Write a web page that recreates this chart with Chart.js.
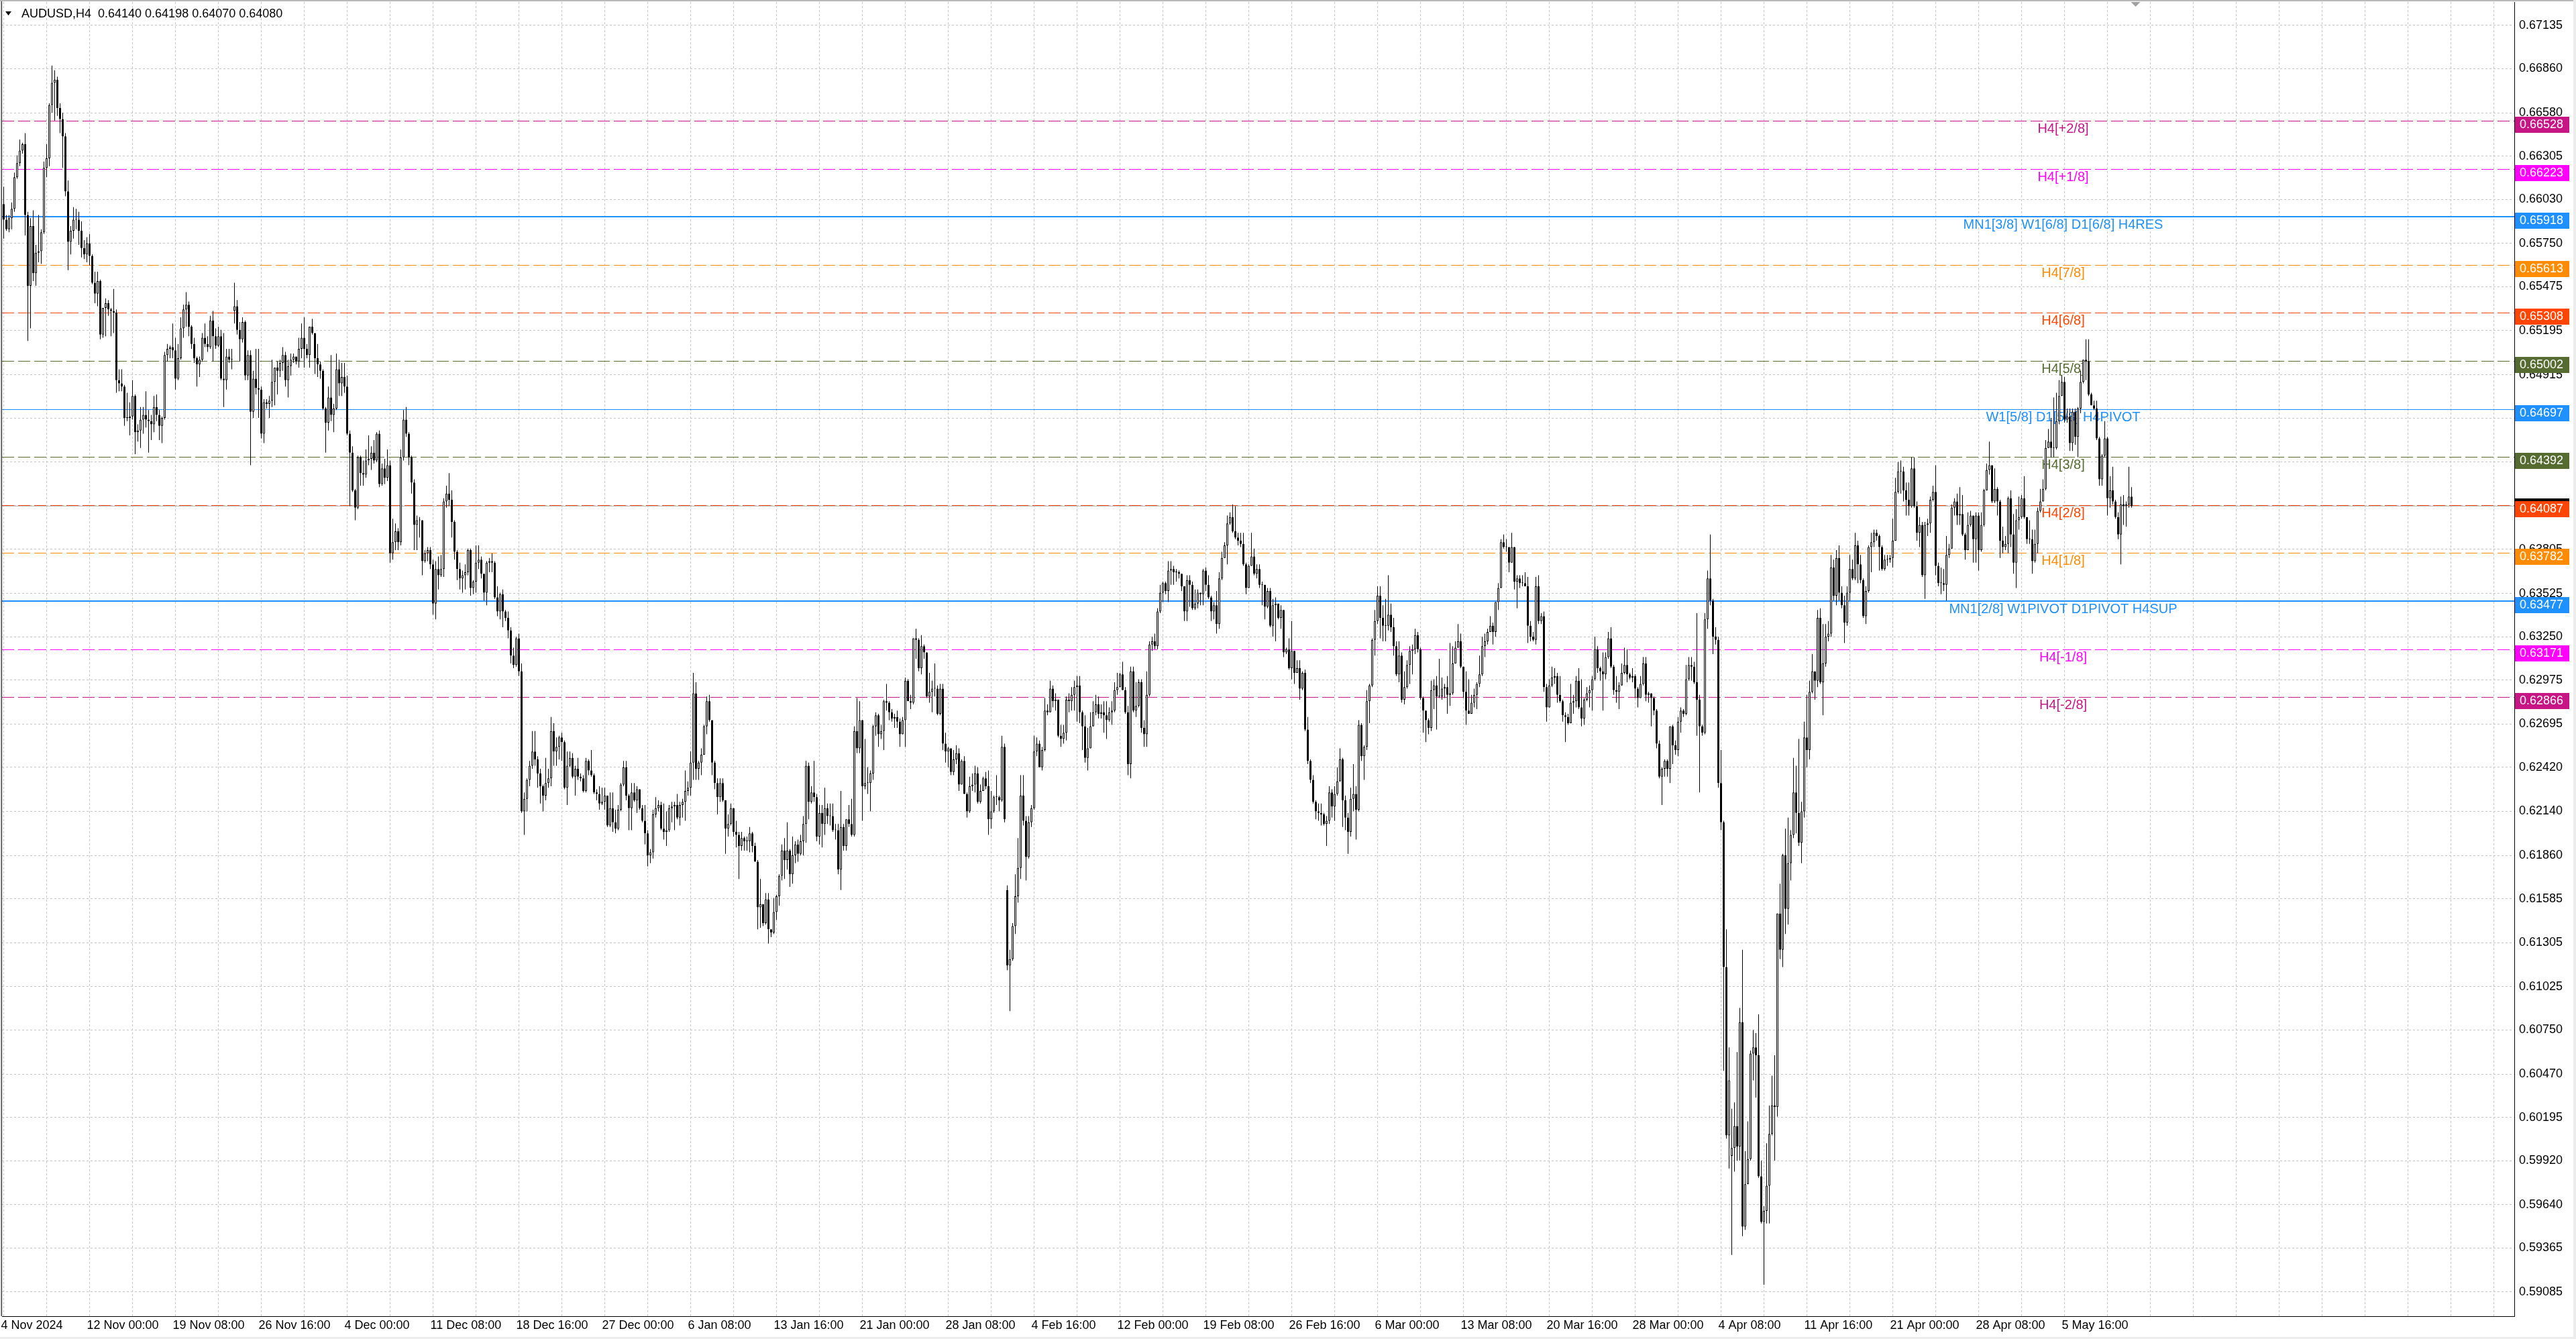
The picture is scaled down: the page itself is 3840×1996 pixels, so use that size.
<!DOCTYPE html>
<html>
<head>
<meta charset="utf-8">
<title>AUDUSD,H4</title>
<script src="https://cdn.jsdelivr.net/npm/chart.js@4.4.1/dist/chart.umd.min.js"></script>
<style>
  html, body { margin: 0; padding: 0; background: #fff; }
  canvas { display: block; }
</style>
</head>
<body>
<canvas id="chart" width="3840" height="1996"></canvas>
<script>
// H4 candles as [open, high, low, close] in pips (0.0001)
const nov24 = [
  [6600,6611,6578,6590],[6590,6593,6583,6584],[6584,6593,6582,6591],[6591,6601,6584,6597],[6597,6620,6595,6617],[6617,6631,6616,6626],[6626,6641,6624,6634],[6634,6639,6632,6638],[6638,6645,6580,6593],[6593,6595,6513,6548],
  [6548,6591,6521,6586],[6586,6596,6551,6556],[6556,6574,6548,6569],[6569,6593,6563,6570],[6570,6584,6562,6582],[6582,6627,6581,6623],[6623,6638,6617,6629],[6629,6664,6624,6663],[6663,6688,6658,6677],[6677,6685,6653,6679],
  [6679,6681,6656,6661],[6661,6664,6645,6654],[6654,6658,6623,6643],[6643,6645,6605,6608],[6608,6615,6558,6576],[6576,6586,6568,6583],[6583,6598,6578,6590],[6590,6597,6584,6590],[6590,6595,6574,6583],[6583,6589,6566,6572],
  [6572,6577,6565,6568],[6568,6579,6563,6575],[6575,6581,6561,6567],[6567,6568,6549,6550],[6550,6557,6537,6543],[6543,6557,6535,6551],[6551,6552,6514,6517],[6517,6534,6515,6534],[6534,6540,6516,6537],[6537,6539,6529,6533],
  [6533,6534,6516,6532],[6532,6546,6518,6531],[6531,6533,6480,6488],[6488,6495,6481,6486],[6486,6495,6481,6484],[6484,6485,6459,6464],[6464,6480,6462,6464],[6464,6474,6453,6465],[6465,6488,6463,6478],[6478,6479,6441,6455],
  [6455,6460,6449,6456],[6456,6471,6445,6463],[6463,6471,6454,6466],[6466,6481,6458,6463],[6463,6469,6442,6462],[6462,6466,6450,6460],[6460,6478,6455,6471],[6471,6479,6462,6466],[6466,6469,6450,6459],[6459,6465,6448,6464],
  [6464,6506,6463,6504],[6504,6511,6500,6508],[6508,6510,6502,6509],[6509,6524,6502,6507],[6507,6515,6482,6489],[6489,6511,6488,6502],[6502,6528,6501,6521],[6521,6536,6515,6533],[6533,6544,6522,6536],[6536,6538,6516,6522],
  [6522,6523,6508,6511],[6511,6515,6499,6502],[6502,6503,6484,6498],[6498,6503,6490,6501],[6501,6518,6500,6515],[6515,6524,6509,6511],[6511,6516,6506,6509],[6509,6529,6508,6526],[6526,6532,6500,6516],[6516,6521,6508,6510],
  [6510,6522,6509,6516],[6516,6520,6488,6489],[6489,6518,6471,6488],[6488,6508,6482,6503],[6503,6508,6499,6501],[6501,6508,6495,6501],[6532,6550,6524,6535],[6535,6539,6517,6520],[6520,6525,6500,6514],[6514,6528,6512,6525],
  [6525,6526,6488,6491],[6491,6507,6488,6504],[6504,6507,6434,6468],[6468,6494,6464,6489],[6489,6508,6479,6483],[6483,6508,6464,6482],[6482,6484,6451,6454],[6454,6476,6448,6474],[6474,6476,6470,6473],[6473,6478,6464,6475],
  [6475,6501,6471,6487],[6487,6496,6472,6496],[6496,6500,6479,6494],[6494,6501,6490,6499],[6499,6509,6494,6504],[6504,6506,6484,6488],[6488,6501,6477,6497],[6497,6505,6491,6501],[6501,6505,6499,6503],[6503,6503,6498,6500],
  [6500,6515,6496,6508],[6508,6524,6502,6515],[6515,6528,6496,6508],[6508,6511,6502,6504],[6504,6522,6496,6522],[6522,6527,6517,6518]
];
const dec24 = [
  [6518,6518,6492,6502],[6502,6511,6490,6498],[6498,6500,6489,6494],[6494,6495,6469,6470],
  [6470,6471,6442,6461],[6461,6484,6456,6477],[6477,6504,6462,6466],[6466,6473,6455,6470],[6470,6505,6469,6495],[6495,6501,6478,6486],[6486,6499,6478,6490],[6490,6499,6480,6484],[6484,6491,6453,6454],[6454,6456,6408,6442],
  [6442,6446,6417,6418],[6418,6419,6399,6407],[6407,6440,6406,6439],[6439,6440,6421,6429],[6429,6437,6421,6428],[6428,6444,6426,6437],[6437,6453,6434,6438],[6438,6446,6431,6442],[6442,6450,6435,6437],[6437,6455,6436,6454],
  [6454,6456,6420,6422],[6422,6435,6421,6432],[6432,6438,6422,6426],[6426,6444,6424,6434],[6434,6437,6372,6378],[6378,6400,6374,6385],[6385,6397,6380,6392],[6392,6394,6380,6385],[6385,6444,6383,6439],[6439,6469,6437,6463],
  [6463,6471,6452,6454],[6454,6455,6434,6439],[6439,6440,6416,6423],[6423,6425,6380,6396],[6396,6402,6380,6399],[6399,6401,6388,6399],[6399,6399,6364,6373],[6373,6380,6372,6378],[6378,6382,6373,6380],[6380,6382,6368,6371],
  [6371,6374,6339,6346],[6346,6373,6336,6368],[6368,6376,6355,6364],[6364,6377,6363,6368],[6368,6413,6363,6411],[6411,6421,6407,6416],[6416,6429,6408,6412],[6412,6418,6388,6398],[6398,6399,6374,6379],[6379,6380,6361,6368],
  [6368,6372,6355,6362],[6362,6367,6353,6364],[6364,6371,6355,6366],[6366,6381,6364,6380],[6380,6381,6351,6356],[6356,6361,6352,6360],[6360,6383,6353,6372],[6372,6383,6368,6374],[6374,6376,6362,6365],[6365,6365,6348,6353],
  [6353,6373,6345,6372],[6372,6375,6366,6373],[6373,6378,6366,6372],[6372,6373,6349,6350],[6350,6357,6338,6341],[6341,6353,6336,6352],[6352,6355,6331,6341],[6341,6342,6335,6337],[6337,6341,6324,6329],[6329,6331,6308,6313],
  [6313,6318,6305,6307],[6307,6325,6306,6324],[6324,6327,6300,6303],[6303,6308,6213,6214],[6214,6226,6199,6222],[6222,6235,6214,6234],[6234,6246,6230,6243],[6243,6265,6241,6252],[6252,6265,6243,6247],[6247,6249,6229,6238],
  [6238,6241,6219,6230],[6230,6231,6214,6224],[6224,6248,6221,6232],[6232,6241,6229,6235],[6235,6274,6230,6265],[6265,6270,6243,6252],[6252,6261,6243,6255],[6255,6262,6247,6261],[6261,6264,6246,6258],[6258,6259,6228,6229],
  [6229,6252,6218,6243],[6243,6252,6242,6248],[6248,6251,6235,6236],[6236,6243,6224,6241],[6241,6248,6234,6236],[6236,6238,6233,6235],[6235,6237,6226,6227],[6227,6248,6226,6246],[6246,6247,6237,6240],[6240,6253,6236,6237],
  [6237,6238,6225,6226],[6226,6228,6221,6225],[6225,6230,6215,6219],[6219,6229,6218,6220],[6220,6229,6215,6224],[6224,6224,6204,6205],[6205,6226,6204,6216],[6216,6226,6201,6207],[6207,6215,6200,6203],[6203,6218,6202,6215],
  [6215,6232,6214,6231],[6231,6246,6230,6242],[6242,6246,6221,6224],[6224,6225,6202,6216],[6216,6232,6202,6226],[6226,6232,6220,6221],[6221,6230,6213,6228],[6228,6228,6215,6216],[6216,6218,6207,6208],[6208,6218,6193,6200],
  [6200,6202,6179,6186],[6186,6190,6181,6188]
];
const jan25 = [
  [6188,6215,6184,6212],[6212,6223,6210,6216],[6216,6221,6214,6218],[6218,6220,6202,6203],[6203,6219,6196,6201],[6201,6214,6192,6202],[6202,6218,6201,6216],[6216,6220,6207,6217],
  [6217,6220,6202,6218],[6218,6225,6209,6210],[6210,6220,6205,6218],[6218,6222,6210,6220],[6220,6240,6208,6227],[6227,6233,6224,6229],[6229,6252,6224,6245],[6245,6302,6234,6289],[6289,6296,6234,6241],[6241,6246,6234,6245],
  [6245,6254,6237,6250],[6250,6269,6250,6268],[6268,6287,6263,6284],[6284,6288,6271,6272],[6272,6272,6237,6245],[6245,6246,6228,6232],[6232,6235,6212,6223],[6223,6235,6220,6232],[6232,6235,6220,6221],[6221,6221,6187,6203],
  [6203,6212,6198,6206],[6206,6219,6205,6216],[6216,6216,6198,6201],[6201,6208,6191,6199],[6199,6201,6171,6192],[6192,6201,6189,6197],[6197,6198,6189,6195],[6195,6198,6189,6195],[6195,6204,6188,6200],[6200,6201,6188,6192],
  [6192,6194,6182,6182],[6182,6183,6139,6153],[6153,6171,6140,6155],[6155,6155,6141,6143],[6143,6162,6142,6158],[6158,6162,6130,6139],[6139,6139,6134,6137],[6137,6159,6136,6150],[6150,6161,6145,6160],[6160,6174,6154,6173],
  [6173,6193,6170,6189],[6189,6197,6171,6183],[6183,6207,6177,6189],[6189,6190,6166,6174],[6174,6198,6168,6186],[6186,6195,6181,6193],[6193,6196,6182,6187],[6187,6199,6186,6195],[6195,6211,6186,6206],[6206,6246,6194,6243],
  [6243,6245,6209,6220],[6220,6230,6219,6226],[6226,6246,6220,6223],[6223,6225,6195,6198],[6198,6218,6193,6213],[6213,6218,6191,6206],[6206,6229,6199,6216],[6216,6219,6206,6211],[6211,6219,6205,6211],[6211,6219,6201,6202],
  [6202,6206,6196,6202],[6202,6206,6174,6177],[6177,6227,6164,6204],[6204,6206,6189,6192],[6192,6209,6189,6209],[6209,6218,6204,6206],[6206,6222,6198,6199],[6199,6268,6198,6265],[6265,6286,6251,6254],[6254,6284,6251,6272],
  [6272,6272,6208,6230],[6230,6260,6228,6232],[6232,6242,6225,6232],[6232,6240,6214,6238],[6238,6269,6234,6268],[6268,6277,6262,6275],[6275,6276,6255,6263],[6263,6269,6260,6265],[6265,6285,6253,6284],[6284,6295,6278,6283],
  [6283,6284,6272,6277],[6277,6279,6271,6273],[6273,6276,6267,6274],[6274,6278,6267,6271],[6271,6273,6255,6263],[6263,6274,6263,6272],[6272,6299,6255,6297],[6297,6298,6284,6284],[6284,6288,6279,6283],[6283,6324,6282,6324],
  [6324,6330,6311,6323],[6323,6324,6303,6305],[6305,6326,6301,6319],[6319,6320,6311,6315],[6315,6315,6286,6287],[6287,6302,6283,6290],[6290,6297,6277,6292],[6292,6308,6287,6292],[6292,6294,6275,6276],[6276,6295,6275,6292],
  [6292,6295,6253,6257],[6257,6264,6245,6252],[6252,6255,6242,6254],[6254,6254,6237,6239],[6239,6253,6237,6247],[6247,6256,6244,6251],[6251,6254,6227,6231],[6231,6247,6231,6246],[6246,6249,6225,6225],[6225,6226,6210,6214],
  [6214,6236,6213,6230],[6230,6238,6227,6231],[6231,6243,6226,6238],[6238,6242,6219,6220],[6220,6231,6219,6227],[6227,6236,6227,6235],[6235,6239,6228,6230],[6230,6240,6199,6209],[6209,6227,6203,6214],[6214,6224,6213,6223],
  [6223,6237,6218,6223],[6223,6224,6214,6221],[6221,6262,6220,6255],[6255,6257,6207,6209]
];
const feb25 = [
  [6164,6167,6113,6116],[6116,6126,6087,6120],[6120,6143,6119,6141],[6141,6174,6136,6160],[6160,6197,6156,6178],[6178,6237,6171,6224],
  [6224,6237,6205,6208],[6208,6211,6170,6185],[6185,6211,6184,6207],[6207,6218,6204,6216],[6216,6262,6215,6252],[6252,6261,6249,6257],[6257,6259,6242,6242],[6242,6255,6240,6253],[6253,6286,6252,6278],[6278,6282,6275,6277],
  [6277,6297,6277,6292],[6292,6294,6280,6284],[6284,6289,6278,6285],[6285,6285,6261,6262],[6262,6269,6255,6260],[6260,6269,6257,6264],[6264,6287,6259,6285],[6285,6289,6277,6284],[6284,6293,6278,6288],[6288,6297,6278,6293],
  [6293,6300,6271,6294],[6294,6300,6270,6277],[6277,6278,6253,6268],[6268,6275,6245,6248],[6248,6267,6240,6254],[6254,6277,6254,6268],[6268,6284,6268,6277],[6277,6288,6275,6282],[6282,6287,6273,6276],[6276,6282,6273,6277],
  [6277,6284,6264,6275],[6275,6284,6260,6272],[6272,6280,6271,6277],[6277,6284,6269,6278],[6278,6296,6277,6291],[6291,6302,6288,6293],[6293,6302,6293,6301],[6301,6309,6291,6291],[6291,6293,6276,6277],[6277,6281,6237,6244],
  [6244,6306,6235,6303],[6303,6306,6277,6278],[6278,6296,6274,6281],[6281,6298,6280,6296],[6296,6298,6264,6267],[6267,6272,6255,6263],[6263,6303,6255,6288],[6288,6322,6287,6320],[6320,6325,6316,6322],[6322,6327,6317,6319],
  [6319,6343,6317,6341],[6341,6358,6340,6353],[6353,6360,6347,6359],[6359,6360,6352,6354],[6354,6373,6347,6367],[6367,6373,6358,6368],[6368,6370,6358,6366],[6366,6368,6360,6366],[6366,6367,6362,6365],[6365,6365,6354,6357],
  [6357,6357,6335,6341],[6341,6364,6335,6361],[6361,6364,6344,6358],[6358,6360,6342,6343],[6343,6355,6342,6346],[6346,6355,6343,6353],[6353,6353,6345,6352],[6352,6368,6345,6367],[6367,6369,6354,6358],[6358,6364,6349,6350],
  [6350,6351,6335,6341],[6341,6347,6336,6345],[6345,6354,6327,6333],[6333,6366,6330,6362],[6362,6379,6361,6375],[6375,6385,6375,6383],[6383,6402,6371,6397],[6397,6404,6396,6401],[6401,6409,6391,6392],[6392,6408,6387,6388],
  [6388,6391,6383,6386],[6386,6391,6382,6384],[6384,6391,6370,6371],[6371,6372,6352,6356],[6356,6371,6356,6370],[6370,6391,6370,6376],[6376,6381,6364,6365],[6365,6371,6362,6368],[6368,6371,6356,6358],[6358,6360,6345,6358],
  [6358,6358,6336,6344],[6344,6356,6343,6354],[6354,6356,6331,6332],[6332,6349,6325,6345],[6345,6350,6322,6346],[6346,6346,6336,6337],[6337,6345,6330,6342],[6342,6342,6312,6315],[6315,6318,6314,6317],[6317,6324,6304,6305],
  [6305,6335,6298,6316],[6316,6316,6295,6302],[6302,6310,6302,6305],[6305,6310,6285,6292],[6292,6303,6291,6302],[6302,6304,6265,6266],[6266,6274,6244,6246],[6246,6247,6232,6234],[6234,6237,6219,6220],[6220,6221,6209,6214],
  [6214,6219,6208,6213],[6213,6219,6205,6212],[6212,6213,6205,6206],[6206,6211,6192,6208]
];
const mar25 = [
  [6208,6230,6206,6226],[6226,6228,6210,6217],[6217,6230,6208,6225],[6225,6242,6224,6233],[6233,6254,6233,6247],[6247,6248,6204,6221],
  [6221,6224,6202,6210],[6210,6213,6187,6201],[6201,6229,6198,6222],[6222,6244,6214,6225],[6225,6230,6196,6215],[6215,6272,6214,6269],[6269,6270,6246,6249],[6249,6256,6234,6255],[6255,6291,6253,6284],[6284,6295,6270,6294],
  [6294,6324,6293,6323],[6323,6342,6313,6335],[6335,6357,6333,6351],[6351,6357,6324,6337],[6337,6345,6322,6332],[6332,6349,6322,6332],[6332,6364,6329,6339],[6339,6346,6328,6331],[6331,6337,6313,6319],[6319,6322,6300,6301],
  [6301,6322,6296,6313],[6313,6315,6283,6285],[6285,6303,6282,6293],[6293,6310,6292,6307],[6307,6319,6295,6316],[6316,6320,6301,6317],[6317,6330,6314,6326],[6326,6328,6315,6317],[6317,6318,6285,6286],[6286,6287,6264,6278],
  [6278,6278,6258,6272],[6272,6273,6263,6267],[6267,6297,6265,6291],[6291,6298,6279,6294],[6294,6300,6266,6287],[6287,6311,6286,6287],[6287,6299,6285,6292],[6292,6295,6286,6293],[6293,6300,6276,6288],[6288,6321,6281,6289],
  [6289,6319,6288,6308],[6308,6322,6308,6318],[6318,6333,6318,6322],[6322,6327,6305,6306],[6306,6306,6286,6290],[6290,6303,6269,6278],[6278,6298,6276,6276],[6276,6288,6276,6283],[6283,6292,6280,6288],[6288,6296,6279,6295],
  [6295,6313,6293,6301],[6301,6325,6300,6319],[6319,6327,6312,6322],[6322,6330,6320,6328],[6328,6338,6328,6332],[6332,6334,6320,6328],[6328,6347,6325,6347],[6347,6359,6342,6356],[6356,6387,6356,6385],[6385,6390,6381,6382],
  [6382,6387,6379,6382],[6382,6382,6366,6372],[6372,6391,6372,6382],[6382,6382,6355,6360],[6360,6364,6343,6362],[6362,6364,6356,6359],[6359,6364,6357,6359],[6359,6366,6357,6357],[6357,6363,6321,6332],[6332,6335,6322,6325],
  [6325,6328,6322,6323],[6323,6363,6320,6357],[6357,6364,6333,6335],[6335,6340,6333,6338],[6338,6341,6290,6293],[6293,6295,6271,6280],[6280,6298,6280,6294],[6294,6306,6293,6299],[6299,6305,6295,6300],[6300,6302,6283,6288],
  [6288,6300,6283,6284],[6284,6285,6271,6275],[6275,6277,6258,6274],[6274,6276,6269,6270],[6270,6295,6270,6283],[6283,6288,6276,6284],[6284,6300,6280,6297],[6297,6305,6279,6280],[6280,6298,6268,6273],[6273,6286,6269,6285],
  [6285,6293,6284,6289],[6289,6294,6280,6291],[6291,6300,6278,6298],[6298,6325,6297,6317],[6317,6319,6302,6305],[6305,6306,6297,6303],[6303,6315,6278,6301],[6301,6315,6298,6312],[6312,6328,6311,6324],[6324,6331,6305,6306],
  [6306,6307,6288,6291],[6291,6300,6283,6290],[6290,6296,6279,6294],[6294,6308,6294,6302],[6302,6318,6301,6307],[6307,6317,6296,6301],[6301,6302,6298,6299],[6299,6305,6296,6300],[6300,6301,6286,6292],[6292,6293,6280,6286],
  [6286,6300,6286,6295],[6295,6312,6294,6308],[6308,6312,6284,6288],[6288,6290,6283,6289],[6289,6289,6268,6286],[6286,6287,6275,6278],[6278,6279,6254,6257],[6257,6259,6235,6236],[6236,6242,6218,6241],[6241,6247,6236,6246]
];
const apr25 = [
  [6246,6247,6236,6241],[6241,6268,6232,6268],[6268,6269,6244,6256],[6256,6259,6250,6253],[6253,6274,6249,6271],[6271,6280,6264,6278],[6278,6279,6274,6276],[6276,6307,6275,6298],[6298,6312,6297,6307],[6307,6312,6297,6306],
  [6306,6309,6295,6296],[6296,6340,6262,6285],[6285,6288,6226,6268],[6268,6269,6262,6264],[6264,6340,6263,6336],[6336,6367,6330,6362],[6362,6390,6345,6348],[6348,6349,6314,6325],[6325,6331,6320,6323],[6323,6325,6229,6232],
  [6232,6253,6202,6207],[6207,6208,6049,6115],[6115,6139,6006,6008],[6008,6064,5987,6043],[5995,6025,5932,6000],[6000,6029,5985,6014],[6014,6061,5992,6001],[6001,6089,5992,6080],[6080,6126,5944,5950],[5950,5998,5948,5977],
  [5977,6017,5977,5993],[5993,6062,5992,6060],[6060,6075,6043,6064],[6064,6073,6032,6059],[6059,6085,5981,5982],[5982,5992,5952,5953],[5953,5963,5913,5960],[5960,6003,5952,5976],[5976,6027,5952,6009],[6009,6046,6008,6027],
  [6027,6059,5992,6026],[6026,6149,6020,6149],[6149,6168,6120,6126],[6126,6187,6115,6186],[6186,6203,6136,6152],[6152,6210,6142,6181],[6181,6202,6170,6199],[6199,6248,6197,6226],[6226,6243,6200,6213],[6213,6260,6192,6194],
  [6194,6220,6181,6214],[6214,6271,6210,6261],[6261,6288,6242,6253],[6253,6297,6247,6290],[6290,6314,6289,6303],[6303,6303,6285,6297],[6297,6342,6293,6337],[6337,6343,6295,6296],[6296,6333,6275,6308],[6308,6333,6306,6325],
  [6325,6335,6322,6327],[6327,6377,6325,6369],[6369,6374,6348,6351],[6351,6380,6345,6375],[6375,6383,6348,6353],[6353,6357,6343,6345],[6345,6351,6321,6334],[6334,6357,6332,6353],[6353,6377,6348,6368],[6368,6374,6361,6362],
  [6362,6391,6361,6383],[6383,6386,6359,6371],[6371,6377,6359,6361],[6361,6362,6337,6338],[6338,6357,6333,6354],[6354,6383,6353,6382],[6382,6391,6366,6385],[6385,6393,6382,6391],[6391,6393,6386,6389],[6389,6390,6367,6382],
  [6382,6383,6367,6368],[6368,6377,6367,6374],[6374,6377,6370,6374],[6374,6377,6372,6375],[6375,6400,6369,6386],[6386,6426,6386,6417],[6417,6436,6416,6430],[6430,6437,6416,6430],[6430,6433,6411,6418],[6418,6423,6402,6412],
  [6412,6423,6402,6408],[6408,6439,6407,6432],[6432,6439,6407,6408],[6408,6411,6386,6391],[6391,6401,6382,6396],[6396,6398,6363,6364],[6364,6398,6349,6396],[6396,6400,6389,6397],[6397,6414,6391,6412],[6412,6421,6411,6417],
  [6417,6434,6364,6370],[6370,6372,6357,6359],[6359,6369,6352,6359],[6359,6368,6354,6358],[6358,6389,6348,6377],[6377,6384,6375,6381],[6381,6409,6381,6407],[6407,6413,6402,6411],[6411,6416,6396,6402],[6402,6420,6396,6403],
  [6403,6415,6389,6390],[6390,6391,6374,6380],[6380,6404,6380,6396],[6396,6405,6395,6402],[6402,6402,6372,6387],[6387,6404,6372,6402],[6402,6404,6367,6380],[6380,6404,6379,6396],[6396,6419,6395,6418],[6418,6435,6418,6431],
  [6431,6449,6428,6434],[6434,6434,6410,6411],[6411,6432,6410,6419],[6419,6420,6402,6411],[6411,6412,6375,6386],[6386,6395,6378,6382],[6382,6389,6380,6384],[6384,6414,6378,6413],[6413,6418,6382,6390],[6390,6403,6365,6372],
  [6372,6406,6356,6399],[6399,6414,6393,6401]
];
const may25 = [
  [6401,6415,6400,6413],[6413,6427,6400,6401],[6401,6401,6384,6387],[6387,6399,6384,6387],[6387,6393,6365,6373],[6373,6393,6372,6384],[6384,6407,6378,6405],[6405,6419,6404,6411],
  [6411,6425,6411,6419],[6419,6450,6418,6445],[6445,6457,6445,6449],[6449,6464,6439,6445],[6445,6477,6439,6445],[6445,6480,6444,6462],[6462,6488,6460,6478],[6478,6491,6478,6487],[6487,6490,6461,6463],[6463,6470,6461,6465],
  [6465,6470,6443,6448],[6448,6470,6443,6468],[6468,6470,6447,6452],[6452,6471,6439,6470],[6470,6494,6467,6487],[6487,6501,6486,6501],[6501,6514,6488,6500],[6500,6514,6478,6479],[6479,6480,6472,6472],[6472,6475,6469,6470],
  [6470,6475,6450,6451],[6451,6452,6421,6425],[6425,6441,6421,6440],[6440,6462,6439,6451],[6451,6452,6402,6413],[6413,6427,6407,6418],[6418,6433,6409,6411],[6411,6412,6400,6401],[6401,6404,6387,6390],[6390,6414,6371,6409],
  [6409,6415,6396,6408],[6408,6411,6395,6409],[6409,6433,6407,6414],[6414,6420,6407,6408]
];

// time axis labels, one every 32 bars
const timeLabels = [
  "4 Nov 2024", "12 Nov 00:00", "19 Nov 08:00", "26 Nov 16:00", "4 Dec 00:00", "11 Dec 08:00",
  "18 Dec 16:00", "27 Dec 00:00", "6 Jan 08:00", "13 Jan 16:00", "21 Jan 00:00", "28 Jan 08:00",
  "4 Feb 16:00", "12 Feb 00:00", "19 Feb 08:00", "26 Feb 16:00", "6 Mar 00:00", "13 Mar 08:00",
  "20 Mar 16:00", "28 Mar 00:00", "4 Apr 08:00", "11 Apr 16:00", "21 Apr 00:00", "28 Apr 08:00", "5 May 16:00",
];

// price scale labels
const priceTicks = [
  0.67135, 0.66860, 0.66580, 0.66305, 0.66030, 0.65750, 0.65475, 0.65195, 0.64915, 0.64640,
  0.64360, 0.64085, 0.63805, 0.63525, 0.63250, 0.62975, 0.62695, 0.62420, 0.62140, 0.61860,
  0.61585, 0.61305, 0.61025, 0.60750, 0.60470, 0.60195, 0.59920, 0.59640, 0.59365, 0.59085,
];

// levels drawn by the indicator
const levelPrices = [0.66528, 0.66223, 0.65918, 0.65613, 0.65308, 0.65002, 0.64697, 0.64392, 0.64087, 0.63782, 0.63477, 0.63171, 0.62866];
const levelNames = [
  "H4[+2/8]", "H4[+1/8]", "MN1[3/8] W1[6/8] D1[6/8] H4RES", "H4[7/8]", "H4[6/8]", "H4[5/8]",
  "W1[5/8] D1[5/8] H4PIVOT", "H4[3/8]", "H4[2/8]", "H4[1/8]", "MN1[2/8] W1PIVOT D1PIVOT H4SUP", "H4[-1/8]", "H4[-2/8]",
];
const levelColors = [
  "#C71585", "#FF00FF", "#1E90FF", "#FF8C00", "#FF4500", "#556B2F",
  "#1E90FF", "#556B2F", "#FF4500", "#FF8C00", "#1E90FF", "#FF00FF", "#C71585",
];
const levelWidths = [1, 1, 2, 1, 1, 1, 1, 1, 1, 1, 2, 1, 1];
const levelDashed = [true, true, false, true, true, true, false, true, true, true, false, true, true];

const bidPrice = 0.64080;
const titleText = "AUDUSD,H4  0.64140 0.64198 0.64070 0.64080";

const bars = [...nov24, ...dec24, ...jan25, ...feb25, ...mar25, ...apr25, ...may25];
const toPrice = (p) => p / 10000;

const FONT = '"Liberation Sans", Arial, sans-serif';

// wick = high/low range, body = open/close range
const wickData = bars.map((b, i) => ({
  x: i,
  y: [toPrice(Math.min(b[2], b[0], b[3])), toPrice(Math.max(b[1], b[0], b[3]))],
}));
const bodyData = bars.map((b, i) => ({ x: i, y: [toPrice(b[0]), toPrice(b[3])] }));

// Force the axis sizes so the plot area matches the terminal window
const fixSize = (prop, size) => (scale) => {
  scale[prop] = size;
  scale.paddingLeft = 0;
  scale.paddingRight = 0;
  scale.paddingTop = 0;
  scale.paddingBottom = 0;
};

const levelPlugin = {
  id: "levels",
  beforeDatasetsDraw(chart) {
    const { ctx, chartArea: area, scales } = chart;
    const x = scales.x;
    const y = scales.y;
    ctx.save();
    ctx.beginPath();
    ctx.rect(area.left, area.top, area.right - area.left, area.bottom - area.top);
    ctx.clip();

    // bid line
    const by = Math.round(y.getPixelForValue(bidPrice)) + 0.5;
    ctx.strokeStyle = "#c0c0c0";
    ctx.lineWidth = 1;
    ctx.beginPath();
    ctx.moveTo(area.left, by);
    ctx.lineTo(area.right, by);
    ctx.stroke();

    levelPrices.forEach((p, i) => {
      const w = levelWidths[i];
      const py = Math.round(y.getPixelForValue(p)) + (w % 2 ? 0.5 : 0);
      ctx.strokeStyle = levelColors[i];
      ctx.lineWidth = w;
      ctx.setLineDash(levelDashed[i] ? [18, 6] : []);
      ctx.beginPath();
      ctx.moveTo(area.left, py);
      ctx.lineTo(area.right, py);
      ctx.stroke();
    });

    ctx.setLineDash([]);
    ctx.font = "20px " + FONT;
    ctx.textAlign = "center";
    ctx.textBaseline = "alphabetic";
    const lx = x.getPixelForValue(767.5);
    levelPrices.forEach((p, i) => {
      ctx.fillStyle = levelColors[i];
      ctx.fillText(levelNames[i], lx, Math.round(y.getPixelForValue(p)) + 18);
    });
    ctx.restore();
  },
  afterDraw(chart) {
    const { ctx, chartArea: area, scales } = chart;
    const x = scales.x;
    const y = scales.y;
    ctx.save();

    // price labels on the right scale
    ctx.font = "18px " + FONT;
    ctx.textAlign = "left";
    ctx.textBaseline = "middle";
    const bidY = Math.round(y.getPixelForValue(bidPrice));
    ctx.fillStyle = "#000";
    ctx.fillRect(area.right + 1, bidY - 11, 81, 24);
    levelPrices.forEach((p, i) => {
      const py = Math.round(y.getPixelForValue(p));
      ctx.fillStyle = levelColors[i];
      ctx.fillRect(area.right + 1, py - 6, 81, 24);
      ctx.fillStyle = "#fff";
      ctx.fillText(p.toFixed(5), area.right + 8, py + 6);
    });

    // symbol title
    ctx.fillStyle = "#000";
    ctx.beginPath();
    ctx.moveTo(8, 17);
    ctx.lineTo(17, 17);
    ctx.lineTo(12.5, 23);
    ctx.closePath();
    ctx.fill();
    ctx.textBaseline = "alphabetic";
    ctx.fillText(titleText, 32, 26);

    // chart shift marker
    const sx = x.getPixelForValue(794.5);
    ctx.fillStyle = "#a0a0a0";
    ctx.beginPath();
    ctx.moveTo(sx - 7, area.top);
    ctx.lineTo(sx + 7, area.top);
    ctx.lineTo(sx, area.top + 7);
    ctx.closePath();
    ctx.fill();

    // window frame
    ctx.fillStyle = "#b9b9b9";
    ctx.fillRect(0, 0, chart.width, 2);
    ctx.fillRect(0, 0, 1, area.bottom);
    ctx.fillStyle = "#000";
    ctx.fillRect(2, 2, 1, area.bottom - 2);
    ctx.fillStyle = "#ececec";
    ctx.fillRect(0, chart.height - 3, chart.width, 3);
    ctx.fillRect(chart.width - 4, 0, 4, chart.height);
    ctx.restore();
  },
};

new Chart(document.getElementById("chart"), {
  type: "bar",
  data: {
    datasets: [
      {
        label: "wick",
        data: wickData,
        backgroundColor: "#000",
        borderWidth: 0,
        barThickness: 1,
        inflateAmount: 0,
        grouped: false,
        order: 2,
      },
      {
        label: "body",
        data: bodyData,
        backgroundColor: (c) => {
          const b = bars[c.dataIndex];
          return b && b[3] > b[0] ? "#ffffff" : "#000000";
        },
        borderColor: "#000",
        borderWidth: 1,
        borderSkipped: false,
        barThickness: 3,
        minBarLength: 1,
        inflateAmount: 0,
        grouped: false,
        order: 1,
      },
    ],
  },
  options: {
    responsive: false,
    maintainAspectRatio: false,
    animation: false,
    devicePixelRatio: 1,
    events: [],
    layout: { padding: { left: 3, top: 3, right: 0, bottom: 0 } },
    plugins: {
      legend: { display: false },
      tooltip: { enabled: false },
    },
    scales: {
      x: {
        type: "linear",
        offset: false,
        min: -0.625,
        max: 935.625,
        afterBuildTicks: (scale) => {
          const ticks = [];
          for (let v = 0; v <= 928; v += 16) ticks.push({ value: v });
          scale.ticks = ticks;
        },
        afterFit: fixSize("height", 34),
        grid: { offset: false, color: "#c4c4c4", lineWidth: 1, drawTicks: false },
        border: { display: true, color: "#000", width: 1, dash: [3, 3] },
        ticks: {
          autoSkip: false,
          maxRotation: 0,
          minRotation: 0,
          align: "start",
          padding: 3,
          labelOffset: -4,
          color: "#000",
          font: { family: FONT, size: 18 },
          callback: (v) => (v % 32 === 0 && timeLabels[v / 32]) ? timeLabels[v / 32] : "",
        },
      },
      y: {
        type: "linear",
        position: "right",
        min: 0.58931,
        max: 0.67284,
        afterBuildTicks: (scale) => {
          scale.ticks = priceTicks.map((v) => ({ value: v }));
        },
        afterFit: fixSize("width", 92),
        grid: { color: "#c4c4c4", lineWidth: 1, drawTicks: false },
        border: { display: true, color: "#000", width: 1, dash: [3, 3] },
        ticks: {
          autoSkip: false,
          padding: 7,
          color: "#000",
          font: { family: FONT, size: 18 },
          callback: (v) => v.toFixed(5),
        },
      },
    },
  },
  plugins: [levelPlugin],
});
</script>
</body>
</html>
